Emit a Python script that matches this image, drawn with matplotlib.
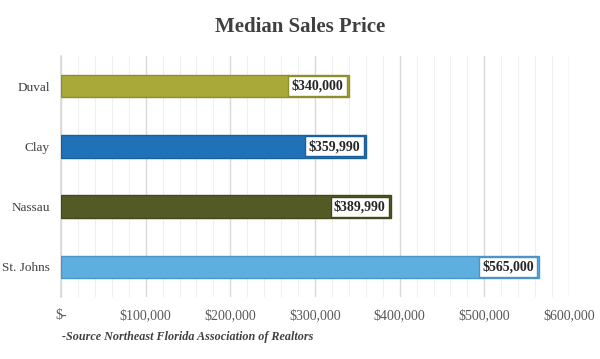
import matplotlib.pyplot as plt
from matplotlib.ticker import FuncFormatter, MultipleLocator

plt.rcParams['font.family'] = ['Liberation Serif', 'DejaVu Serif']

Title = "Median Sales Price"

Counties = ["Duval", "Clay", "Nassau", "St. Johns"]
Prices = [340000, 359990, 389990, 565000]
Colors = ["#A9A93A", "#1F72B8", "#545A26", "#5EAEE0"]
Edges = ["#8E8E2C", "#19609C", "#43481C", "#4A95C6"]

fig = plt.figure(figsize= (6, 3.59), dpi= 100)
ax = fig.add_axes([61 / 600, 1 - 297 / 359, 508 / 600, 241 / 359])

y_pos = list(range(len(Counties)))
ax.barh(y_pos, Prices, height= 0.37, color= Colors, edgecolor= Edges, linewidth= 1.0, zorder= 3)

for y, val, col in zip(y_pos, Prices, Edges):
    ax.annotate("${:,.0f}".format(val), xy= (val, y), xytext= (-4, 0), textcoords= "offset points",
                ha= "right", va= "center", fontsize= 10, fontweight= "bold", color= "#262626",
                bbox= dict(boxstyle= "square,pad=0.24", facecolor= "white", edgecolor= col, linewidth= 1.0),
                zorder= 4)

ax.set_xlim(0, 600000)
ax.set_ylim(3.5, -0.5)
ax.set_yticks(y_pos)
ax.set_yticklabels(Counties, fontsize= 9.5, color= "#404040")

ax.xaxis.set_major_locator(MultipleLocator(100000))
ax.xaxis.set_minor_locator(MultipleLocator(20000))
ax.xaxis.set_major_formatter(FuncFormatter(lambda v, p: "$-" if v == 0 else "${:,.0f}".format(v)))
ax.tick_params(axis= "x", which= "both", length= 0, labelsize= 10, labelcolor= "#595959", pad= 9)
ax.tick_params(axis= "y", length= 0, pad= 8)

ax.grid(axis= "x", which= "major", color= "#D9D9D9", linewidth= 1.0, zorder= 0)
ax.grid(axis= "x", which= "minor", color= "#EFEFEF", linewidth= 0.8, zorder= 0)
ax.set_axisbelow(True)

for s in ["top", "right", "bottom"]:
    ax.spines[s].set_visible(False)
ax.spines["left"].set_color("#D9D9D9")
ax.spines["left"].set_linewidth(1.2)

fig.text(0.5, 1 - 27 / 359, Title, ha= "center", va= "center", fontsize= 15, fontweight= "bold", color= "#404040")
fig.text(62 / 600, 1 - 337 / 359, "-Source Northeast Florida Association of Realtors", ha= "left", va= "center",
         fontsize= 8.7, fontweight= "bold", fontstyle= "italic", color= "#404040")

plt.savefig("out.png", dpi= 100)
